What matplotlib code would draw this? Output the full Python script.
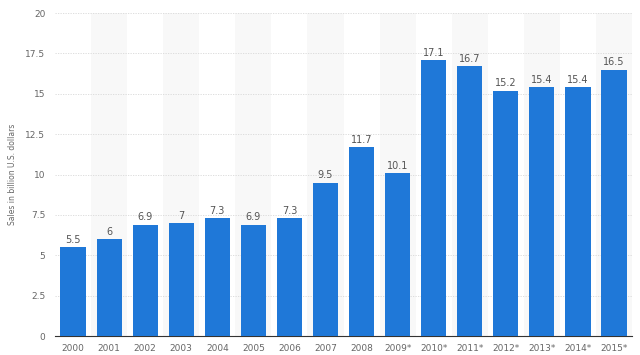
import matplotlib.pyplot as plt
import numpy as np

# 데이터
years = ['2000', '2001', '2002', '2003', '2004', '2005', '2006', '2007', '2008',
         '2009*', '2010*', '2011*', '2012*', '2013*', '2014*', '2015*']
sales = [5.5, 6, 6.9, 7, 7.3, 6.9, 7.3, 9.5, 11.7, 10.1, 17.1, 16.7, 15.2, 15.4, 15.4, 16.5]
yticks = [0, 2.5, 5, 7.5, 10, 12.5, 15, 17.5, 20]
ytick_labels = ['0', '2.5', '5', '7.5', '10', '12.5', '15', '17.5', '20']

plt.rcParams['font.family'] = ['DejaVu Sans']

fig = plt.figure(figsize=(6.4, 3.55), dpi=100)
ax = fig.add_axes([0.086, 0.0535, 0.9015, 0.9095])

x = np.arange(len(years))

# 교대 배경 띠
for i in x:
    if i % 2 == 1:
        ax.axvspan(i - 0.5, i + 0.5, color='#f8f8f8', zorder=0, lw=0)

ax.bar(x, sales, width=0.7, color='#1f78d8', zorder=3)

for xi, v in zip(x, sales):
    label = f'{v:g}'
    ax.text(xi, v + 0.15, label, ha='center', va='bottom', fontsize=7, color='#555555', zorder=4)

ax.set_xlim(-0.5, len(years) - 0.5)
ax.set_ylim(0, 20)
ax.set_yticks(yticks)
ax.set_yticklabels(ytick_labels)
ax.set_xticks(x)
ax.set_xticklabels(years)
ax.tick_params(axis='both', length=0, labelsize=6.5, colors='#666666')
ax.tick_params(axis='y', pad=7)
ax.tick_params(axis='x', pad=6)

ax.yaxis.grid(True, linestyle=(0, (1.5, 1.5)), color='#d8d8d8', linewidth=0.6, zorder=1)
ax.set_axisbelow(True)

for s in ['top', 'right', 'left']:
    ax.spines[s].set_visible(False)
ax.spines['bottom'].set_color('#333333')
ax.spines['bottom'].set_linewidth(0.8)

ax.set_ylabel('Sales in billion U.S. dollars', fontsize=5.5, color='#666666')
ax.yaxis.set_label_coords(-0.066, 0.5)

fig.savefig('out.png', dpi=100)
